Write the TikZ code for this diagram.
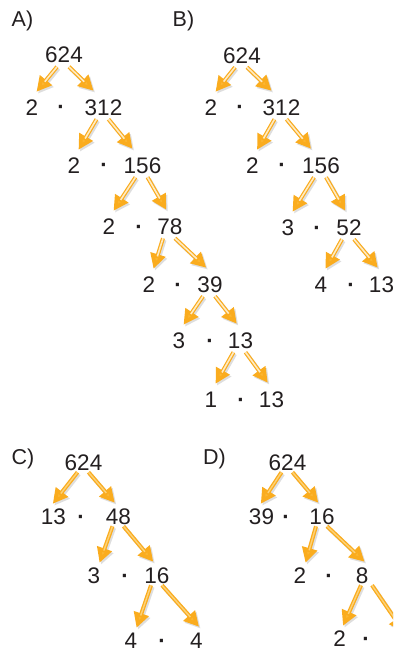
\documentclass[tikz,border=0pt]{standalone}
\usepackage{fontspec}
\setmainfont{Liberation Sans}
\usetikzlibrary{arrows.meta,calc}
\definecolor{txt}{RGB}{35,31,32}
\definecolor{arrO}{RGB}{250,172,30}
\definecolor{arrH}{RGB}{252,182,50}
\definecolor{arrL}{RGB}{255,235,195}
\definecolor{arrM}{RGB}{253,210,120}
\begin{document}
\begin{tikzpicture}[x=1pt,y=-1pt,
  num/.style={font=\fontsize{22.5}{27}\selectfont, text=txt, inner sep=0pt, text height=16.1pt, text depth=0pt, anchor=center},
  lbl/.style={font=\fontsize{21.5}{26}\selectfont, text=txt, inner sep=0pt, text height=15.4pt, text depth=0pt, anchor=west},
  mdot/.style={font=\bfseries\fontsize{22.5}{27}\selectfont, text=txt, inner sep=0pt, anchor=base},
  arrbase/.style={line width=4pt, draw=arrO,
     -{Triangle[length=15pt,width=15pt,fill=arrH]},
     preaction={draw=black!13, line width=4pt, transform canvas={shift={(1.5pt,-1.8pt)}},
                -{Triangle[length=15pt,width=15pt]}}},
  arrAB/.style={arrbase, postaction={draw=arrL, line width=1.6pt, shorten >=13pt, -}},
  arrCD/.style={arrbase, postaction={draw=arrM, line width=1.4pt, shorten >=13pt, -}}
]
\useasboundingbox (0,0) rectangle (393,652);
\clip (0,0) rectangle (393,652);

% ---------- labels ----------
\node[lbl] (labA) at (11.5,18.5) {A)};
\node[lbl] (labB) at (172.5,18.5) {B)};
\node[lbl] (labC) at (11.5,457) {C)};
\node[lbl] (labD) at (203,457) {D)};

% ---------- tree A ----------
\node[num] (A0) at (64,54.5) {624};
\node[num] (A1l) at (32,107) {2};   \node[mdot] (A1d) at (61,115) {·};   \node[num] (A1r) at (103.5,107) {312};
\node[num] (A2l) at (74,165) {2};   \node[mdot] (A2d) at (104,173) {·};  \node[num] (A2r) at (142.5,165) {156};
\node[num] (A3l) at (109,226) {2};  \node[mdot] (A3d) at (139,234) {·};  \node[num] (A3r) at (170,226) {78};
\node[num] (A4l) at (149,284) {2};  \node[mdot] (A4d) at (178,292) {·};  \node[num] (A4r) at (210,284) {39};
\node[num] (A5l) at (179,340) {3};  \node[mdot] (A5d) at (210,348) {·};  \node[num] (A5r) at (240.5,340) {13};
\node[num] (A6l) at (211,399) {1};  \node[mdot] (A6d) at (241,407) {·};  \node[num] (A6r) at (271.5,399) {13};

% ---------- tree B ----------
\node[num] (B0) at (242,55) {624};
\node[num] (B1l) at (211,107) {2};   \node[mdot] (B1d) at (240,115) {·};  \node[num] (B1r) at (281.5,107) {312};
\node[num] (B2l) at (252.5,165) {2}; \node[mdot] (B2d) at (282,173) {·};  \node[num] (B2r) at (321,165) {156};
\node[num] (B3l) at (288,227) {3};   \node[mdot] (B3d) at (317,235) {·};  \node[num] (B3r) at (349,227) {52};
\node[num] (B4l) at (321,284) {4};   \node[mdot] (B4d) at (351,292) {·};  \node[num] (B4r) at (381.5,284) {13};

% ---------- tree C ----------
\node[num] (C0) at (83.5,462) {624};
\node[num] (C1l) at (53.5,516) {13}; \node[mdot] (C1d) at (81,524) {·};  \node[num] (C1r) at (118.5,516) {48};
\node[num] (C2l) at (94,575) {3};    \node[mdot] (C2d) at (125,583) {·}; \node[num] (C2r) at (157,575) {16};
\node[num] (C3l) at (131,640) {4};   \node[mdot] (C3d) at (162,648) {·}; \node[num] (C3r) at (196.5,640) {4};

% ---------- tree D ----------
\node[num] (D0) at (287.5,462) {624};
\node[num] (D1l) at (261.5,516) {39}; \node[mdot] (D1d) at (286,524) {·}; \node[num] (D1r) at (322,516) {16};
\node[num] (D2l) at (300,575) {2};    \node[mdot] (D2d) at (329,583) {·}; \node[num] (D2r) at (362,575) {8};
\node[num] (D3l) at (339.5,638) {2};  \node[mdot] (D3d) at (366,646) {·};
\coordinate (D3r) at (404,632);

% ---------- arrows ----------
\newcommand{\splitAB}[3]{%
  \draw[arrAB] ($(#1.south)+(-7,4)$) -- ($(#2.north west)+(11,-7)$);
  \draw[arrAB] ($(#1.south)+(5,4)$) -- ($(#3.north west)+(9,-8)$);}
\newcommand{\splitCD}[3]{%
  \draw[arrCD] ($(#1.south)+(-6,2)$) -- ($(#2.north west)+(12,-4)$);
  \draw[arrCD] ($(#1.south)+(5,2)$) -- ($(#3.north west)+(9,-5)$);}

\splitAB{A0}{A1l}{A1r}
\splitAB{A1r}{A2l}{A2r}
\splitAB{A2r}{A3l}{A3r}
\splitAB{A3r}{A4l}{A4r}
\splitAB{A4r}{A5l}{A5r}
\splitAB{A5r}{A6l}{A6r}

\splitAB{B0}{B1l}{B1r}
\splitAB{B1r}{B2l}{B2r}
\splitAB{B2r}{B3l}{B3r}
\splitAB{B3r}{B4l}{B4r}

\splitCD{C0}{C1l}{C1r}
\splitCD{C1r}{C2l}{C2r}
\splitCD{C2r}{C3l}{C3r}

\splitCD{D0}{D1l}{D1r}
\splitCD{D1r}{D2l}{D2r}
\draw[arrCD] ($(D2r.south)+(-1,2)$) -- ($(D3l.north west)+(10,-4)$);
\draw[arrCD] ($(D2r.south)+(10,2)$) -- (D3r);
\end{tikzpicture}
\end{document}
